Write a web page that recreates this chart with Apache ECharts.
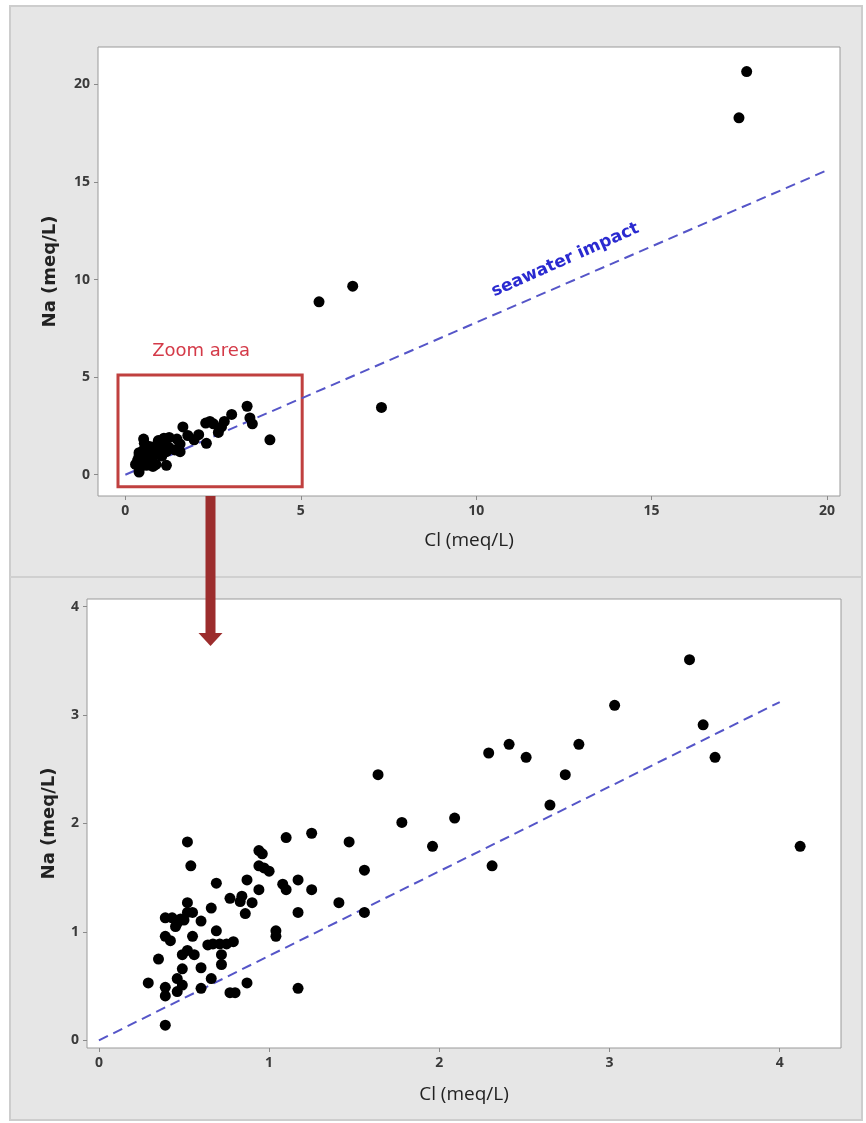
<!DOCTYPE html>
<html><head><meta charset="utf-8">
<script src="https://cdn.jsdelivr.net/npm/echarts@6/dist/echarts.min.js"></script>
<style>html,body{margin:0;padding:0;background:#fff}#c{width:866px;height:1123px}</style>
</head><body><div id="c"></div>
<script>
// Zoom-area samples (Cl, Na in meq/L)
const clZoom = [3.47,3.03,3.55,3.62,2.82,2.41,2.29,2.51,2.74,1.64,2.65,2.09,1.78,1.96,4.12,2.31,
  1.25,1.10,1.47,0.52,0.54,1.56,1.41,1.56,1.25,1.17,1.17,1.17,1.08,1.10,1.04,1.04,
  0.94,0.96,0.94,0.97,1.00,0.87,0.94,0.84,0.83,0.90,0.86,0.77,0.69,0.66,0.69,
  0.79,0.75,0.71,0.67,0.64,0.72,0.72,0.66,0.77,0.80,0.87,0.60,0.60,0.60,0.55,
  0.56,0.52,0.49,0.49,0.46,0.49,0.46,0.42,0.39,0.39,0.43,0.46,0.45,0.50,0.52,0.55,
  0.52,0.35,0.29,0.39,0.39,0.39,0.48];
const naZoom = [3.51,3.09,2.91,2.61,2.73,2.73,2.65,2.61,2.45,2.45,2.17,2.05,2.01,1.79,1.79,1.61,
  1.91,1.87,1.83,1.83,1.61,1.57,1.27,1.18,1.39,1.48,1.18,0.48,1.44,1.39,1.01,0.96,
  1.75,1.72,1.61,1.59,1.56,1.48,1.39,1.33,1.28,1.27,1.17,1.31,1.45,1.22,1.01,
  0.91,0.89,0.89,0.89,0.88,0.79,0.70,0.57,0.44,0.44,0.53,0.48,0.67,1.10,0.96,
  0.79,0.83,0.79,0.66,0.57,0.51,0.45,0.92,0.96,1.13,1.13,1.08,1.05,1.11,1.18,1.18,
  1.27,0.75,0.53,0.49,0.41,0.14,1.12];
// High-salinity samples (only in the full view)
const clHigh = [5.52,6.48,7.30,17.49,17.71];
const naHigh = [8.86,9.66,3.45,18.29,20.66];
// Seawater dilution line (Na/Cl ratio)
const seaFullX = [0,20], seaFullY = [0,15.6];
const seaZoomX = [0,4], seaZoomY = [0,3.12];
// Tick labels
const fullTicks = [0,5,10,15,20];
const zoomTicks = [0,1,2,3,4];

const zip = (a,b) => a.map((v,i)=>[v,b[i]]);
const tickFont = {color:'#3a3a3a', fontWeight:'bold', fontSize:14, fontFamily:'Open Sans'};

function xAx(gi,min,max,ticks,gap){
  return {type:'value',gridIndex:gi,min,max,name:'Cl (meq/L)',nameLocation:'middle',nameGap:gap,
    nameTextStyle:{fontFamily:'Open Sans',fontSize:19,color:'#222'},
    axisLine:{show:false,onZero:false},
    axisTick:{show:true,length:4,lineStyle:{color:'#8a8a8a'},customValues:ticks},
    axisLabel:Object.assign({customValues:ticks,margin:8},tickFont),
    splitLine:{show:false}};
}
function yAx(gi,min,max,ticks,gap){
  return {type:'value',gridIndex:gi,min,max,name:'Na (meq/L)',nameLocation:'middle',nameGap:gap,
    nameTextStyle:{fontFamily:'DejaVu Sans',fontWeight:'bold',fontSize:18,color:'#222'},
    axisLine:{show:false,onZero:false},
    axisTick:{show:true,length:4,lineStyle:{color:'#8a8a8a'},customValues:ticks},
    axisLabel:Object.assign({customValues:ticks,margin:8},tickFont),
    splitLine:{show:false}};
}
const dash = {color:'#5555c8',width:2,type:[10,6]};
const dot = {color:'#000',opacity:1};

const chart = echarts.init(document.getElementById('c'),null,{renderer:'canvas'});
chart.setOption({
  backgroundColor:'#fff',
  animation:false,
  graphic:[
    {type:'rect',z:-10,shape:{x:10,y:6,width:852,height:1114},style:{fill:'#e6e6e6',stroke:'#cdcdcd',lineWidth:2}},
    {type:'line',z:-9,shape:{x1:10,y1:577,x2:862,y2:577},style:{stroke:'#d0d0d0',lineWidth:2}},
    {type:'rect',z:100,shape:{x:205.5,y:496,width:10,height:138},style:{fill:'#9c2d2d'}},
    {type:'polygon',z:100,shape:{points:[[198.5,633],[222.5,633],[210.5,646]]},style:{fill:'#9c2d2d'}}
  ],
  grid:[
    {left:98,top:47,width:742,height:449,show:true,backgroundColor:'#fff',borderColor:'#9a9a9a',borderWidth:1},
    {left:87,top:599,width:754,height:449,show:true,backgroundColor:'#fff',borderColor:'#9a9a9a',borderWidth:1}
  ],
  xAxis:[xAx(0,-0.78,20.37,fullTicks,35), xAx(1,-0.07,4.36,zoomTicks,37)],
  yAxis:[yAx(0,-1.09,21.92,fullTicks,39), yAx(1,-0.07,4.07,zoomTicks,29)],
  series:[
    {type:'line',xAxisIndex:0,yAxisIndex:0,data:zip(seaFullX,seaFullY),showSymbol:false,lineStyle:dash,z:1,
      markPoint:{symbol:'circle',symbolSize:0,data:[{coord:[12.54,11.0],
        label:{show:true,position:'inside',rotate:24,formatter:'seawater impact',color:'#2a2ad0',
          fontFamily:'DejaVu Sans',fontWeight:'bold',fontSize:17}}]},
      markArea:{silent:true,data:[[{name:'Zoom area',coord:[-0.21,5.11]},{coord:[5.04,-0.62]}]],
        itemStyle:{color:'rgba(0,0,0,0)',borderColor:'#c0403f',borderWidth:3},
        label:{show:true,position:'top',distance:13,offset:[-9,0],color:'#d43a48',fontFamily:'DejaVu Sans',fontSize:18}}},
    {type:'scatter',xAxisIndex:0,yAxisIndex:0,data:zip(clZoom.concat(clHigh),naZoom.concat(naHigh)),
      symbolSize:11,itemStyle:dot,z:3},
    {type:'line',xAxisIndex:1,yAxisIndex:1,data:zip(seaZoomX,seaZoomY),showSymbol:false,lineStyle:dash,z:1},
    {type:'scatter',xAxisIndex:1,yAxisIndex:1,data:zip(clZoom,naZoom),symbolSize:11,itemStyle:dot,z:3}
  ]
});
</script></body></html>
